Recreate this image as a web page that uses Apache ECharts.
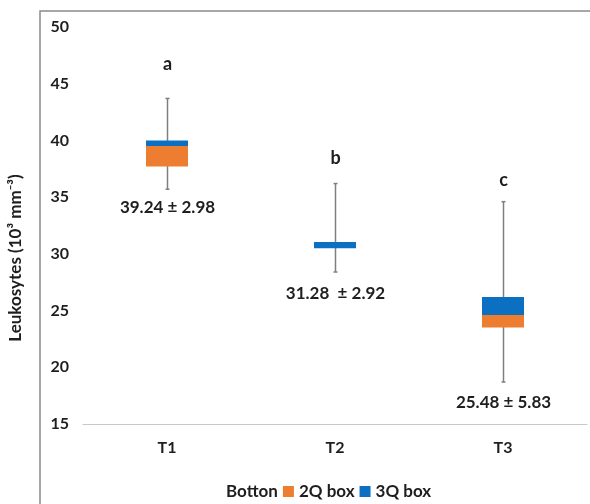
<!DOCTYPE html>
<html>
<head>
<meta charset="utf-8">
<script src="https://cdn.jsdelivr.net/npm/echarts@6/dist/echarts.min.js"></script>
<style>
  html, body { margin: 0; padding: 0; background: #ffffff; }
  #chart { width: 590px; height: 504px; }
</style>
</head>
<body>
<div id="chart"></div>
<script>
// Treatments on the category axis
const categories = ['T1', 'T2', 'T3'];

// Box-plot statistics per treatment (10^3 mm^-3)
const whiskerLow  = [35.7, 28.4, 18.7];
const quartile1   = [37.7, 30.5, 23.5];
const medianVal   = [39.5, 30.5, 24.6];
const quartile3   = [40.0, 31.05, 26.2];
const whiskerHigh = [43.7, 36.2, 34.6];

// Mean ± SD annotations and significance letters
const meanSdText = ['39.24 ± 2.98', '31.28  ± 2.92', '25.48 ± 5.83'];
const groupLetters = ['a', 'b', 'c'];

// Value axis ticks
const yTicks = [15, 20, 25, 30, 35, 40, 45, 50];

const FONT = 'Lato';
const TEXT_COLOR = '#1e1e1e';
const ORANGE = '#ED7D31';
const BLUE = '#0B6FC2';

// Pixel spacing of the letters above and the mean labels below the whiskers
const letterGap = [34, 25, 21];
const meanGap = [18, 22, 20];

const secondBox = quartile1.map((q, i) => +(medianVal[i] - q).toFixed(3));
const thirdBox = medianVal.map((m, i) => +(quartile3[i] - m).toFixed(3));
const whiskerData = categories.map((c, i) => [i, whiskerLow[i], whiskerHigh[i]]);

const chart = echarts.init(document.getElementById('chart'), null, { renderer: 'canvas' });

chart.setOption({
  animation: false,
  backgroundColor: '#ffffff',
  textStyle: { fontFamily: FONT },
  grid: { left: 83, right: 3, top: 27, bottom: 80 },
  graphic: [
    {
      type: 'rect',
      shape: { x: 40, y: 11, width: 600, height: 600 },
      style: { fill: 'none', stroke: '#8a8a8a', lineWidth: 1.5 },
      silent: true
    },
    {
      type: 'text',
      x: 16,
      y: 258,
      rotation: Math.PI / 2,
      style: {
        text: 'Leukosytes (10³ mm⁻³)',
        font: 'bold 17px ' + FONT,
        fill: TEXT_COLOR,
        textAlign: 'center',
        textVerticalAlign: 'middle'
      },
      silent: true
    }
  ],
  legend: {
    data: ['Botton', '2Q box', '3Q box'],
    top: 478,
    left: 205,
    itemWidth: 11,
    itemHeight: 11,
    itemGap: 5,
    icon: 'rect',
    textStyle: { fontFamily: FONT, fontWeight: 'bold', fontSize: 17, color: TEXT_COLOR },
    selectedMode: false
  },
  xAxis: {
    type: 'category',
    data: categories,
    axisLine: { lineStyle: { color: '#c8c8c8', width: 1 } },
    axisTick: { show: false },
    axisLabel: { margin: 16, fontFamily: FONT, fontWeight: 'bold', fontSize: 16, color: TEXT_COLOR },
    splitLine: { show: false }
  },
  yAxis: {
    type: 'value',
    min: yTicks[0],
    max: yTicks[yTicks.length - 1],
    interval: yTicks[1] - yTicks[0],
    axisLine: { show: false },
    axisTick: { show: false },
    splitLine: { show: false },
    axisLabel: { margin: 14, fontFamily: FONT, fontWeight: 'bold', fontSize: 16, color: TEXT_COLOR }
  },
  series: [
    {
      name: 'whiskers',
      type: 'custom',
      z: 1,
      data: whiskerData,
      renderItem: function (params, api) {
        const i = api.value(0);
        const top = api.coord([i, api.value(2)]);
        const bottom = api.coord([i, api.value(1)]);
        const x = Math.round(top[0]) + 0.5;
        const lineStyle = { stroke: '#7f7f7f', lineWidth: 1.5 };
        return {
          type: 'group',
          children: [
            { type: 'line', shape: { x1: x, y1: top[1], x2: x, y2: bottom[1] }, style: lineStyle },
            { type: 'line', shape: { x1: x - 2, y1: top[1], x2: x + 2, y2: top[1] }, style: lineStyle },
            { type: 'line', shape: { x1: x - 2, y1: bottom[1], x2: x + 2, y2: bottom[1] }, style: lineStyle },
            {
              type: 'text',
              style: {
                text: groupLetters[i],
                x: x,
                y: top[1] - letterGap[i],
                font: 'bold 18px ' + FONT,
                fill: TEXT_COLOR,
                textAlign: 'center',
                textVerticalAlign: 'middle'
              }
            },
            {
              type: 'text',
              style: {
                text: meanSdText[i],
                x: x,
                y: bottom[1] + meanGap[i],
                font: 'bold 17px ' + FONT,
                fill: TEXT_COLOR,
                textAlign: 'center',
                textVerticalAlign: 'middle'
              }
            }
          ]
        };
      }
    },
    {
      name: 'Botton',
      type: 'bar',
      stack: 'box',
      barWidth: 42,
      z: 2,
      data: quartile1,
      itemStyle: { color: 'rgba(0,0,0,0)' },
      silent: true
    },
    {
      name: '2Q box',
      type: 'bar',
      stack: 'box',
      barWidth: 42,
      z: 3,
      data: secondBox,
      itemStyle: { color: ORANGE }
    },
    {
      name: '3Q box',
      type: 'bar',
      stack: 'box',
      barWidth: 42,
      z: 3,
      data: thirdBox,
      itemStyle: { color: BLUE }
    }
  ]
});
</script>
</body>
</html>
